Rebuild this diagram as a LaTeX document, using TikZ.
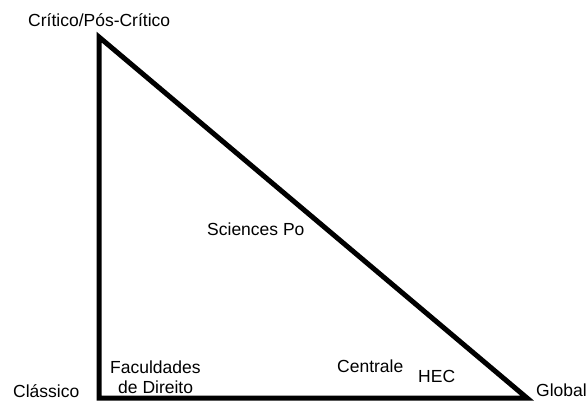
\documentclass[tikz,border=0pt]{standalone}
\usepackage{fontspec}
\setmainfont{Liberation Sans}
\begin{document}
\begin{tikzpicture}[x=1pt,y=-1pt,
  lbl/.style={anchor=base west,inner sep=0pt,font=\fontsize{17.5}{20}\selectfont},
  edge/.style={line width=5pt,line join=miter,draw=black}]
\useasboundingbox[fill=white] (0,0) rectangle (587,400);
\coordinate (top) at (99,37);
\coordinate (bl) at (99,398);
\coordinate (br) at (527,398);
\draw[edge] (top) -- (bl) -- (br) -- cycle;
\node[lbl] (crit) at (28,26) {Crítico/Pós-Crítico};
\node[lbl] (class) at (13,397) {Clássico};
\node[lbl] (glob) at (536,396) {Global};
\node[lbl] (sci) at (207,235) {Sciences Po};
\node[lbl] (fac1) at (110,373) {Faculdades};
\node[lbl] (fac2) at (118,393) {de Direito};
\node[lbl] (cen) at (337,372) {Centrale};
\node[lbl] (hec) at (418,382) {HEC};
\end{tikzpicture}
\end{document}
